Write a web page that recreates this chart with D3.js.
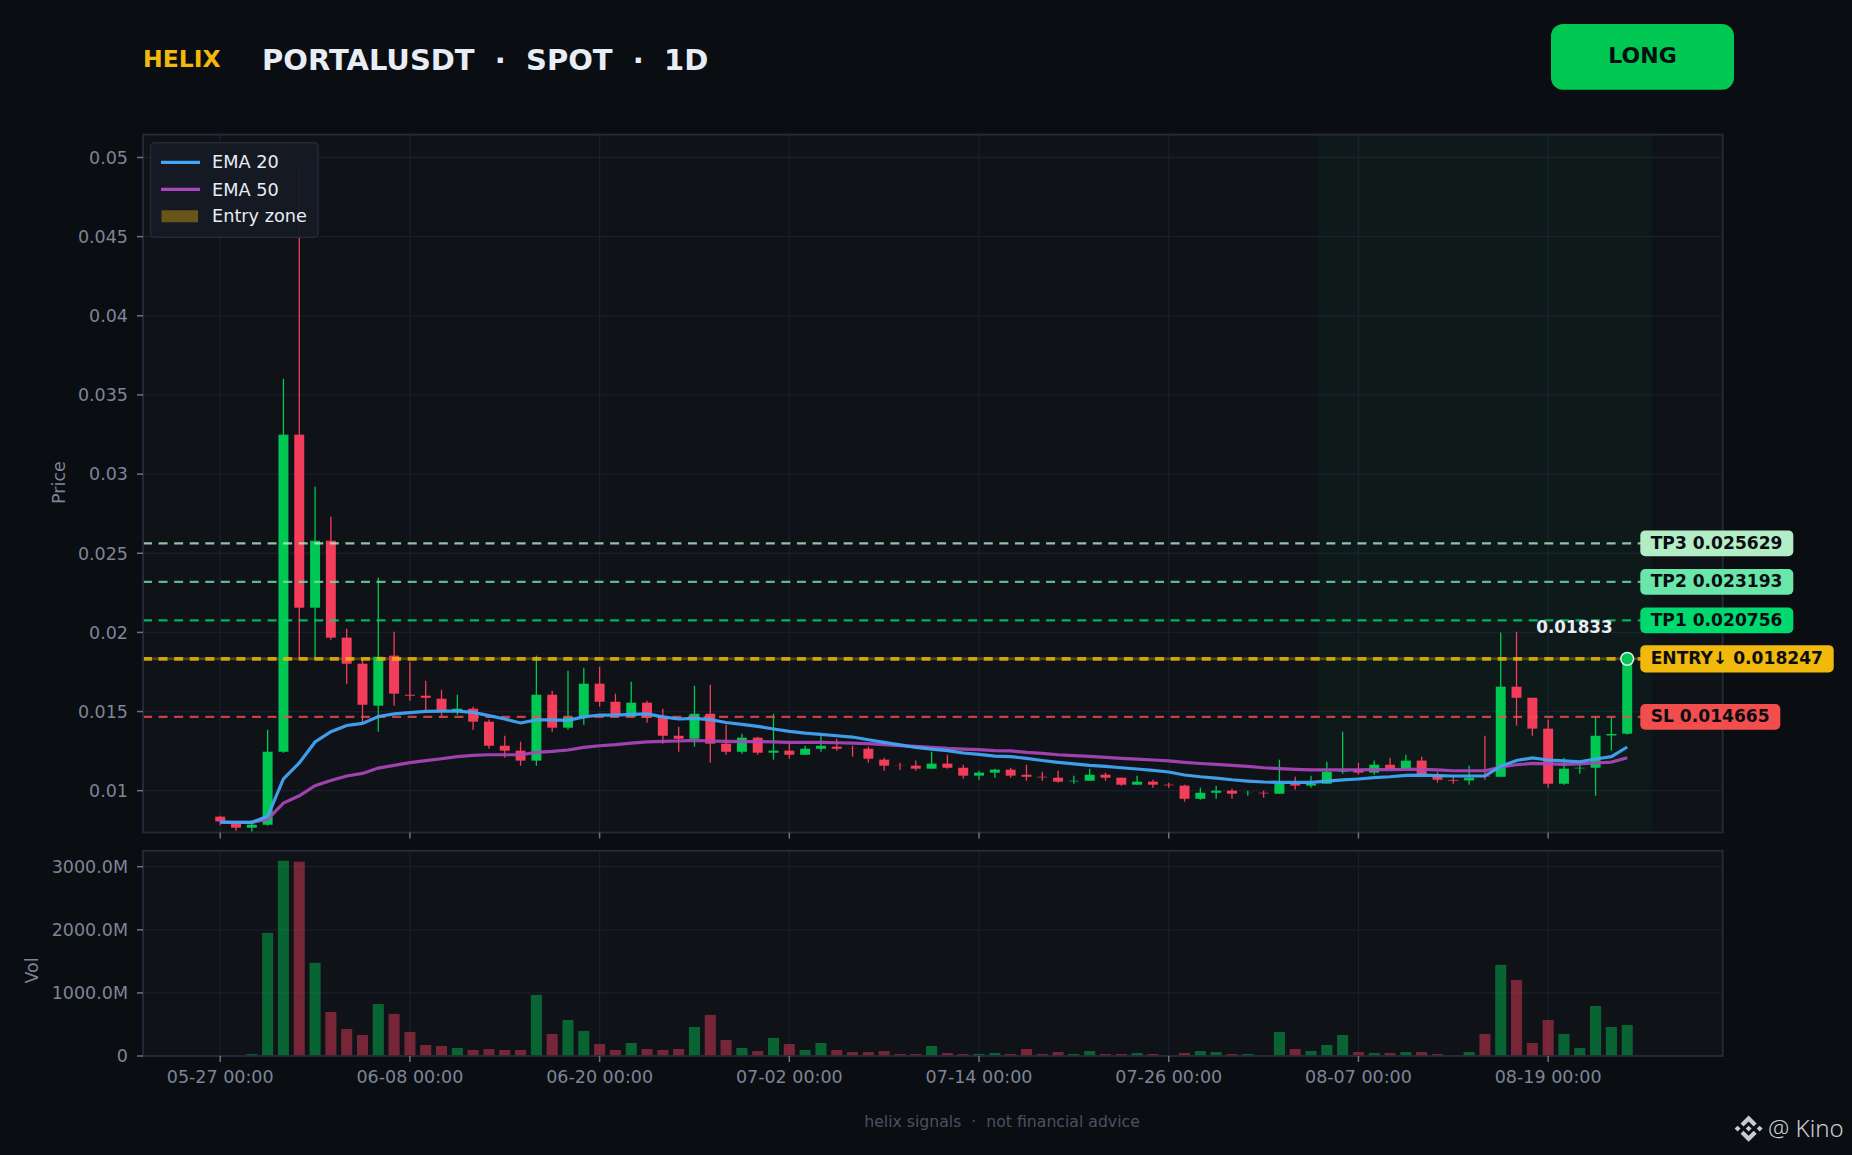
<!DOCTYPE html>
<html>
<head>
<meta charset="utf-8">
<script src="https://cdn.jsdelivr.net/npm/d3@7"></script>
<style>
  html, body { margin: 0; padding: 0; background: #0a0d12; }
  svg { display: block; }
  text { font-family: "DejaVu Sans", sans-serif; white-space: pre; }
</style>
</head>
<body>
<div id="chart"></div>
<script>
// values
const opens = [.00836,.00796,.00766,.00785,.01246,.03249,.02156,.02579,.01967,.01802,
  .01537,.01853,.01606,.016,.01581,.01505,.01518,.01436,.01284,.01253,
  .0119,.01606,.01398,.01467,.01676,.01562,.01467,.01556,.01467,.01347,
  .01328,.01486,.01297,.01246,.01335,.0124,.01253,.01227,.01265,.01278,
  .01266,.01265,.01196,.01159,.01158,.01139,.01171,.01145,.01095,.01114,
  .01133,.01101,.01088,.01082,.01059,.01063,.01101,.01082,.01038,.01057,
  .01038,.01032,.00949,.00987,.01,.00985,.00987,.00981,.01044,.01032,
  .01044,.0112,.01133,.01114,.01164,.01139,.0119,.01101,.01068,.01065,
  .01095,.01088,.01657,.01587,.01392,.01044,.01141,.01145,.01349,.0136];
const closes = [.00806,.00766,.00785,.01246,.03249,.02156,.02579,.01967,.01802,.01543,
  .01846,.01613,.016,.01587,.01505,.01518,.01436,.01284,.01253,.0119,
  .01606,.01398,.01467,.01676,.01562,.0148,.01556,.01461,.01347,.01328,
  .01486,.01297,.01246,.01335,.0124,.01253,.01227,.01265,.01284,.01265,
  .01265,.01202,.01158,.01158,.01139,.01171,.01145,.01095,.01114,.01133,
  .01095,.01088,.01084,.01057,.01063,.01101,.01082,.01038,.01057,.01038,
  .01034,.00949,.00987,.01,.00981,.00986,.00983,.01044,.01032,.01044,
  .0112,.01125,.01114,.01164,.01133,.0119,.01101,.01069,.01063,.01082,
  .0109,.01657,.01587,.01392,.01044,.01139,.01145,.01347,.01358,.01833];
const highs = [.00842,.00806,.00804,.01385,.03603,.04935,.0292,.02731,.02023,.01828,
  .02346,.02004,.01815,.01695,.01638,.01606,.01531,.01449,.01347,.0131,
  .01853,.01632,.01758,.01777,.01783,.01613,.01689,.01569,.01518,.01404,
  .01663,.0167,.01417,.0136,.01341,.01486,.01297,.01284,.01347,.01328,
  .01284,.01278,.01208,.01177,.0119,.01246,.01227,.01164,.01126,.01139,
  .01145,.01164,.0112,.01126,.01095,.01139,.01114,.01082,.01095,.01069,
  .01051,.01038,.01019,.01032,.01013,.01,.01,.01196,.01088,.01095,
  .01183,.01373,.01177,.0119,.01208,.01227,.01215,.0112,.01095,.01158,
  .01347,.02,.02004,.01587,.01449,.01208,.01183,.01467,.01461,.01838];
const lows = [.00781,.00747,.00741,.00779,.0124,.01838,.0184,.01954,.01676,.01431,
  .01373,.01537,.01569,.01505,.01467,.0148,.01385,.01265,.01208,.01158,
  .01158,.01373,.01385,.01417,.01531,.01467,.01467,.0143,.01297,.01246,
  .01278,.01177,.01227,.01234,.01227,.01196,.01202,.01227,.01246,.01253,
  .01215,.01177,.01126,.01133,.01126,.01139,.01139,.01076,.01069,.01082,
  .01082,.01063,.01063,.01051,.01044,.01063,.01063,.01032,.01038,.01019,
  .01019,.00931,.00943,.00949,.00949,.00968,.00956,.00981,.01006,.01019,
  .01044,.01107,.01101,.01101,.01133,.01139,.01101,.01051,.01044,.01038,
  .01069,.01088,.01411,.01347,.01019,.01038,.01107,.00968,.01253,.01354];
const ema20 = [.00802,.008,.008,.00838,.01074,.01175,.01308,.01373,.01412,.01425,
  .01469,.01485,.01493,.01501,.01503,.01503,.01495,.01474,.01453,.01428,
  .01447,.01447,.01444,.01466,.01478,.01478,.01482,.01485,.01466,.01453,
  .01457,.01449,.01431,.01419,.01406,.0139,.01375,.01364,.01356,.01347,
  .01339,.01322,.01305,.01289,.01274,.01263,.01253,.01238,.01229,.01219,
  .01215,.01204,.01191,.01179,.01169,.0116,.01154,.01145,.01137,.01128,
  .01118,.01099,.01088,.0108,.01069,.01061,.01055,.01052,.01052,.01052,
  .01061,.01068,.01074,.01082,.01088,.01097,.01099,.01095,.01093,.01093,
  .01093,.01154,.01191,.01207,.01194,.01188,.01183,.012,.01215,.01276];
const ema50 = [.008,.008,.008,.00819,.00922,.00968,.01032,.01065,.01093,.01109,
  .01143,.0116,.01177,.0119,.01202,.01215,.01223,.01227,.01227,.01227,
  .01242,.01248,.01257,.01274,.01284,.01291,.01301,.01308,.01311,.01314,
  .01318,.01314,.01311,.0131,.0131,.01308,.01305,.01305,.01305,.01303,
  .01301,.01297,.01291,.01284,.0128,.01274,.01267,.01263,.01259,.01253,
  .01251,.01242,.01236,.01227,.01221,.01217,.0121,.01204,.012,.01194,
  .01188,.01179,.01172,.01166,.0116,.01154,.01145,.01139,.01135,.01131,
  .01131,.01131,.01131,.01133,.01133,.01135,.01135,.01131,.01126,.01126,
  .01126,.0115,.01164,.01172,.01169,.01166,.01169,.01175,.01181,.01208];
const volumes = [2,2,30,1952,3095,3079,1476,698,428,333,
  825,667,381,175,159,127,95,111,95,95,
  968,349,571,397,190,95,206,111,95,111,
  460,651,254,127,79,286,190,95,206,95,
  63,63,79,32,32,159,48,32,32,48,
  32,111,32,63,32,79,32,32,48,32,
  8,48,79,63,32,32,8,381,111,79,
  175,333,63,48,48,63,63,32,8,63,
  349,1444,1206,206,571,349,127,793,460,492];

const xTickIdx = [0, 12, 24, 36, 48, 60, 72, 84];
const xTickLabels = ['05-27 00:00', '06-08 00:00', '06-20 00:00', '07-02 00:00',
  '07-14 00:00', '07-26 00:00', '08-07 00:00', '08-19 00:00'];
const priceTicks = [0.01, 0.015, 0.02, 0.025, 0.03, 0.035, 0.04, 0.045, 0.05];
const volTicks = [0, 1000, 2000, 3000];

const levels = [
  { name: 'TP3', value: 0.025629, color: '#b3edc6' },
  { name: 'TP2', value: 0.023193, color: '#69e6a8' },
  { name: 'TP1', value: 0.020756, color: '#00d96f' },
  { name: 'SL', value: 0.014665, color: '#f24e4e' }
];
const entryLevel = 0.01833;
const entryLabel = 0.018247;
const entryZone = [0.018247, 0.01842];
const activeZone = [69.4, 90.55];

const width = 1852, height = 1155;
const left = 143, right = 1722.7;
const priceTop = 134.6, priceBottom = 832.5;
const volTop = 850.8, volBottom = 1056;
const tickFont = '17.5px';

const GREEN = '#00c853', RED = '#f43d5a', GOLD = '#f0b90b';

const svg = d3.select('#chart').append('svg')
  .attr('width', width)
  .attr('height', height);

svg.append('rect').attr('width', width).attr('height', height).attr('fill', '#0a0d12');

const x = d3.scaleLinear().domain([0, 89]).range([220.2, 1627.2]);
const yPrice = d3.scaleLinear().domain([0.01, 0.05]).range([790.7, 157.5]);
const yVol = d3.scaleLinear().domain([0, 3000]).range([1056, 866.7]);
const step = x(1) - x(0);
const isUp = i => closes[i] >= opens[i];

function panel(top, bottom, yScale, yTicks, yFormat, withLabels) {
  const g = svg.append('g');
  g.append('rect')
    .attr('x', left).attr('y', top)
    .attr('width', right - left).attr('height', bottom - top)
    .attr('fill', '#0f1318');

  // grid
  g.append('g')
    .attr('transform', `translate(${left},0)`)
    .call(d3.axisLeft(yScale).offset(0).tickValues(yTicks).tickSize(-(right - left)).tickFormat(''))
    .call(a => a.select('.domain').remove())
    .selectAll('line').attr('stroke', '#1a1e2c').attr('stroke-width', 1.3);
  g.append('g')
    .attr('transform', `translate(0,${bottom})`)
    .call(d3.axisBottom(x).offset(0).tickValues(xTickIdx).tickSize(-(bottom - top)).tickFormat(''))
    .call(a => a.select('.domain').remove())
    .selectAll('line').attr('stroke', '#1a1e2c').attr('stroke-width', 1.3);

  const marks = svg.append('g');

  const over = svg.append('g');
  over.append('rect')
    .attr('x', left).attr('y', top)
    .attr('width', right - left).attr('height', bottom - top)
    .attr('fill', 'none').attr('stroke', '#262b3a').attr('stroke-width', 1.8);

  const yAxis = over.append('g')
    .attr('transform', `translate(${left},0)`)
    .call(d3.axisLeft(yScale).offset(0).tickValues(yTicks).tickSize(6).tickPadding(9).tickFormat(yFormat));
  yAxis.select('.domain').remove();
  yAxis.selectAll('.tick text').attr('dy', '0.36em');

  const xAxis = over.append('g')
    .attr('transform', `translate(0,${bottom})`)
    .call(d3.axisBottom(x).offset(0).tickValues(xTickIdx).tickSize(6).tickPadding(9)
      .tickFormat(withLabels ? (d, i) => xTickLabels[i] : ''));
  xAxis.select('.domain').remove();

  over.selectAll('.tick line').attr('stroke', '#6b7280').attr('stroke-width', 1.5);
  over.selectAll('.tick text')
    .attr('fill', '#7d8597')
    .style('font-size', tickFont)
    .style('font-family', '"DejaVu Sans", sans-serif');
  return marks;
}

const indexes = d3.range(opens.length);

// price panel
const priceMarks = panel(priceTop, priceBottom, yPrice, priceTicks, d => String(d), false);

priceMarks.append('rect')
  .attr('x', x(activeZone[0]))
  .attr('y', priceTop)
  .attr('width', x(activeZone[1]) - x(activeZone[0]))
  .attr('height', priceBottom - priceTop)
  .attr('fill', GREEN)
  .attr('opacity', 0.036);

priceMarks.append('rect')
  .attr('x', left)
  .attr('y', yPrice(entryZone[1]))
  .attr('width', right - left)
  .attr('height', yPrice(entryZone[0]) - yPrice(entryZone[1]))
  .attr('fill', GOLD)
  .attr('opacity', 0.3);

priceMarks.selectAll('.wick')
  .data(indexes)
  .enter()
  .append('line')
  .attr('class', 'wick')
  .attr('x1', d => x(d))
  .attr('x2', d => x(d))
  .attr('y1', d => yPrice(highs[d]))
  .attr('y2', d => yPrice(lows[d]))
  .attr('stroke', d => isUp(d) ? GREEN : RED)
  .attr('stroke-width', 1.3);

priceMarks.selectAll('.body')
  .data(indexes)
  .enter()
  .append('rect')
  .attr('class', 'body')
  .attr('x', d => x(d) - step * 0.315)
  .attr('width', step * 0.63)
  .attr('y', d => yPrice(Math.max(opens[d], closes[d])))
  .attr('height', d => Math.abs(yPrice(opens[d]) - yPrice(closes[d])))
  .attr('fill', d => isUp(d) ? GREEN : RED);

// level lines
priceMarks.selectAll('.level')
  .data(levels)
  .enter()
  .append('line')
  .attr('class', 'level')
  .attr('x1', left)
  .attr('x2', right)
  .attr('y1', d => yPrice(d.value))
  .attr('y2', d => yPrice(d.value))
  .attr('stroke', d => d.color)
  .attr('stroke-width', 2.2)
  .attr('stroke-dasharray', '9 6.57')
  .attr('opacity', 0.8);

priceMarks.append('line')
  .attr('x1', left)
  .attr('x2', right)
  .attr('y1', yPrice(entryLevel))
  .attr('y2', yPrice(entryLevel))
  .attr('stroke', GOLD)
  .attr('stroke-width', 3.6)
  .attr('stroke-dasharray', '9 6.57')
  .attr('opacity', 0.82);

// EMAs
const emaLine = d3.line().x((d, i) => x(i)).y(d => yPrice(d));
priceMarks.append('path')
  .attr('d', emaLine(ema50))
  .attr('fill', 'none')
  .attr('stroke', '#ab47bc')
  .attr('stroke-width', 3.2)
  .attr('opacity', 0.92);
priceMarks.append('path')
  .attr('d', emaLine(ema20))
  .attr('fill', 'none')
  .attr('stroke', '#42a5f5')
  .attr('stroke-width', 3.2)
  .attr('opacity', 0.95);

// last close marker
const lastIdx = closes.length - 1;
priceMarks.append('circle')
  .attr('cx', x(lastIdx))
  .attr('cy', yPrice(closes[lastIdx]))
  .attr('r', 6.4)
  .attr('fill', GREEN)
  .attr('stroke', '#e8ecf4')
  .attr('stroke-width', 1.5);

// volume panel
const volMarks = panel(volTop, volBottom, yVol, volTicks,
  d => d === 0 ? '0' : d.toFixed(1) + 'M', true);

volMarks.selectAll('.vol')
  .data(indexes)
  .enter()
  .append('rect')
  .attr('class', 'vol')
  .attr('x', d => x(d) - step * 0.35)
  .attr('width', step * 0.7)
  .attr('y', d => yVol(volumes[d]))
  .attr('height', d => yVol(0) - yVol(volumes[d]))
  .attr('fill', d => isUp(d) ? GREEN : RED)
  .attr('opacity', 0.45);

// axis titles
svg.append('text')
  .attr('transform', `translate(59,${(priceTop + priceBottom) / 2 - 1}) rotate(-90)`)
  .attr('text-anchor', 'middle')
  .attr('dy', '0.35em')
  .attr('fill', '#7d8597')
  .style('font-size', tickFont)
  .text('Price');
svg.append('text')
  .attr('transform', `translate(32,${(volTop + volBottom) / 2 + 17}) rotate(-90)`)
  .attr('text-anchor', 'middle')
  .attr('dy', '0.35em')
  .attr('fill', '#7d8597')
  .style('font-size', tickFont)
  .text('Vol');

// header
svg.append('text')
  .attr('x', 143).attr('y', 66.7)
  .attr('fill', GOLD)
  .style('font-size', '23.5px').style('font-weight', 'bold')
  .text('HELIX');
svg.append('text')
  .attr('x', 262).attr('y', 70)
  .attr('fill', '#e8ecf4')
  .style('font-size', '29px').style('font-weight', 'bold')
  .text('PORTALUSDT  ·  SPOT  ·  1D');

svg.append('rect')
  .attr('x', 1551).attr('y', 24)
  .attr('width', 183).attr('height', 65.7)
  .attr('rx', 12)
  .attr('fill', GREEN);
svg.append('text')
  .attr('x', 1642.5).attr('y', 55)
  .attr('dy', '0.35em')
  .attr('text-anchor', 'middle')
  .attr('fill', '#0a0d12')
  .style('font-size', '22px').style('font-weight', 'bold')
  .text('LONG');

// level tags
const tags = [
  ...levels.map(d => ({
    text: `${d.name} ${d.value.toFixed(6)}`, value: d.value, color: d.color,
    w: d.name === 'SL' ? 140 : 153, h: 25.8
  })),
  { text: `ENTRY↓ ${entryLabel.toFixed(6)}`, value: entryLevel, color: GOLD, w: 193.4, h: 27.4 }
];
const tag = svg.selectAll('.tag')
  .data(tags)
  .enter()
  .append('g')
  .attr('class', 'tag')
  .attr('transform', d => `translate(1640.3,${yPrice(d.value)})`);
tag.append('rect')
  .attr('y', d => -d.h / 2)
  .attr('width', d => d.w)
  .attr('height', d => d.h)
  .attr('rx', 5)
  .attr('fill', d => d.color);
tag.append('text')
  .attr('x', 10.4)
  .attr('dy', '0.32em')
  .attr('fill', '#0a0d12')
  .style('font-size', '17.1px').style('font-weight', 'bold')
  .text(d => d.text);

svg.append('text')
  .attr('x', 1612.7).attr('y', 632.6)
  .attr('text-anchor', 'end')
  .attr('fill', '#e8ecf4')
  .style('font-size', '16.8px').style('font-weight', 'bold')
  .text(closes[lastIdx].toFixed(5));

// legend
const legend = svg.append('g');
legend.append('rect')
  .attr('x', 150.6).attr('y', 142.7)
  .attr('width', 167.4).attr('height', 94.6)
  .attr('rx', 4)
  .attr('fill', '#161a24')
  .attr('fill-opacity', 0.94)
  .attr('stroke', '#242838')
  .attr('stroke-width', 1.5);
const legendItems = [
  { label: 'EMA 20', color: '#42a5f5', y: 162.3 },
  { label: 'EMA 50', color: '#ab47bc', y: 189.4 },
  { label: 'Entry zone', color: GOLD, y: 216.3, patch: true }
];
legendItems.forEach(d => {
  if (d.patch) {
    legend.append('rect')
      .attr('x', 161.5).attr('y', d.y - 6)
      .attr('width', 36.5).attr('height', 12)
      .attr('fill', d.color).attr('opacity', 0.38);
  } else {
    legend.append('line')
      .attr('x1', 161).attr('x2', 200)
      .attr('y1', d.y).attr('y2', d.y)
      .attr('stroke', d.color).attr('stroke-width', 3.2);
  }
  legend.append('text')
    .attr('x', 212).attr('y', d.y)
    .attr('dy', '0.35em')
    .attr('fill', '#e8ecf4')
    .style('font-size', '17.7px')
    .text(d.label);
});

// footer
svg.append('text')
  .attr('x', 1002).attr('y', 1122)
  .attr('dy', '0.35em')
  .attr('text-anchor', 'middle')
  .attr('fill', '#4b5260')
  .style('font-size', '15.7px')
  .text('helix signals  ·  not financial advice');

// watermark
const mark = svg.append('g').attr('transform', 'translate(1735.5,1115.5) scale(0.82)');
mark.append('path')
  .attr('fill', '#c9cbcf')
  .attr('d', 'M16 0 6.17 9.83l3.62 3.62L16 7.25l6.21 6.21 3.62-3.62z' +
    'M2.55 12.38 6.17 16l-3.62 3.62L-1.07 16z' +
    'M25.83 16l3.62-3.62L33.07 16l-3.62 3.62z' +
    'M16 32l9.83-9.83-3.62-3.62L16 24.75l-6.21-6.21-3.62 3.62z' +
    'M16 12.38 19.62 16 16 19.62 12.38 16z');
svg.append('text')
  .attr('x', 1768).attr('y', 1137)
  .attr('fill', '#c9cbcf')
  .style('font-family', '"Noto Sans", sans-serif')
  .style('font-size', '24px')
  .style('font-weight', 300)
  .text('@ Kino');
</script>
</body>
</html>
